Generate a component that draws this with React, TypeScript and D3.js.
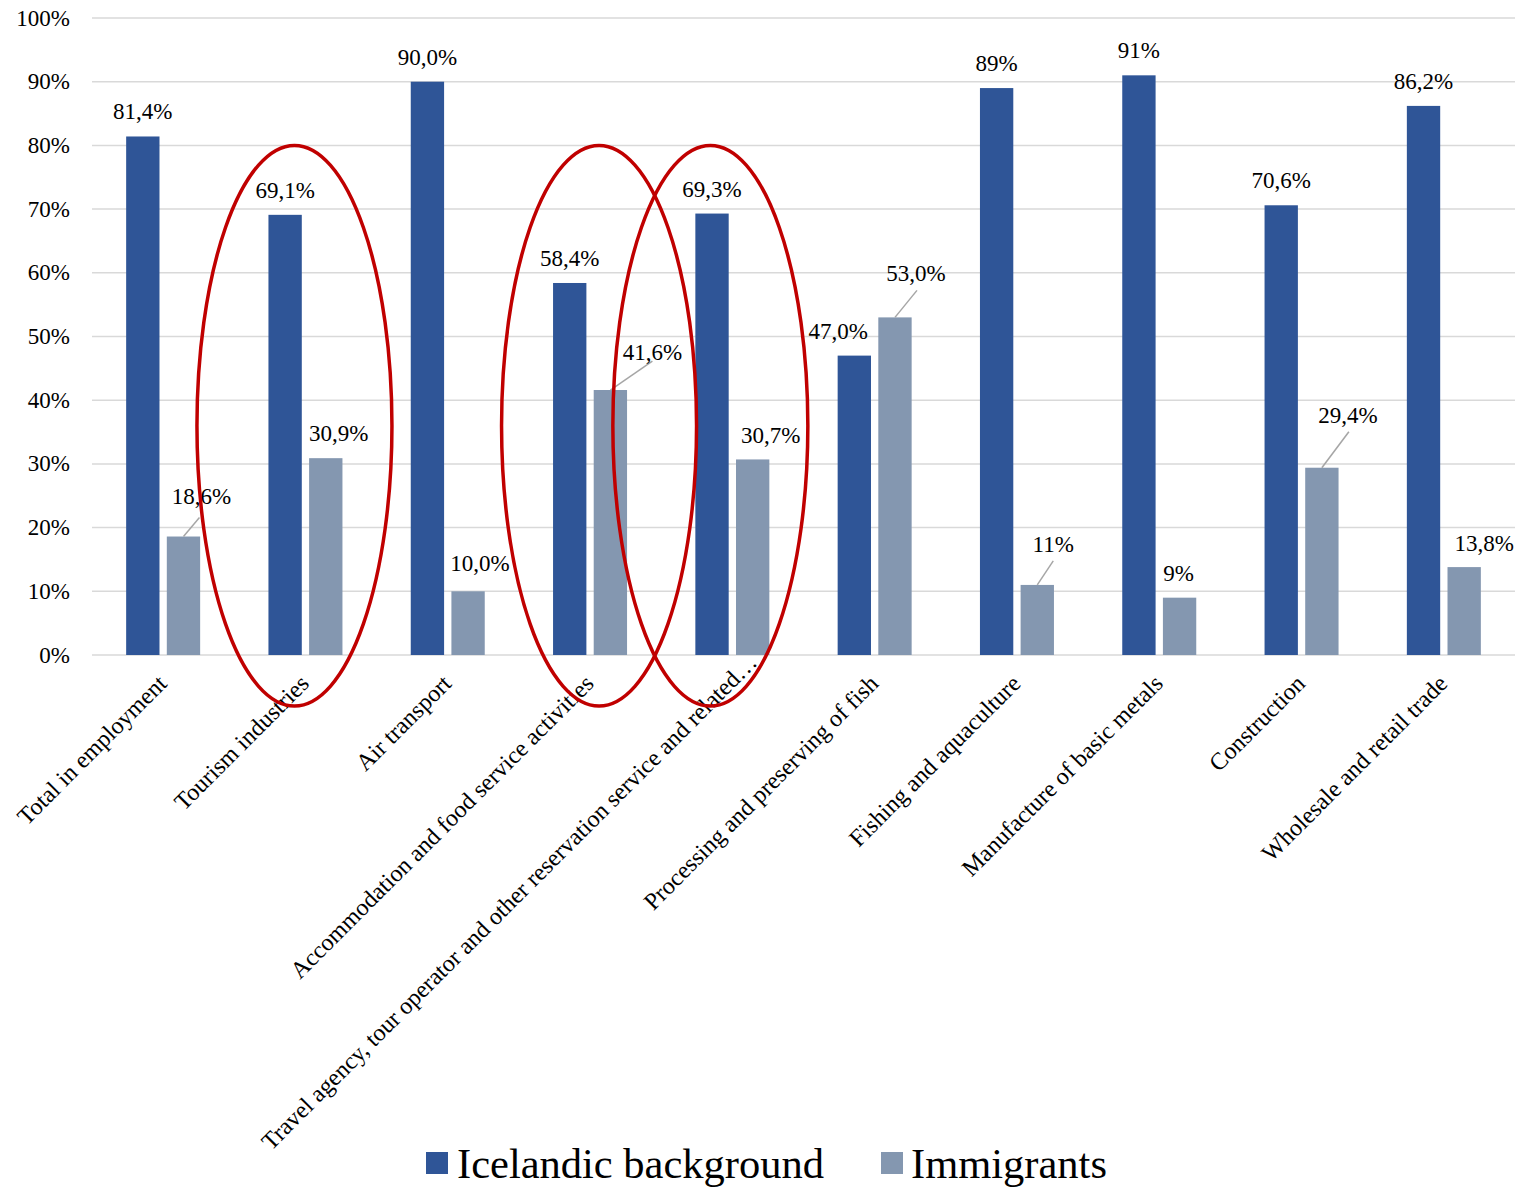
import React from "react";
import * as d3 from "d3";

const categories = [
  "Total in employment",
  "Tourism industries",
  "Air transport",
  "Accommodation and food service activities",
  "Travel agency, tour operator and other reservation service and related…",
  "Processing and preserving of fish",
  "Fishing and aquaculture",
  "Manufacture of basic metals",
  "Construction",
  "Wholesale and retail trade",
];
const seriesNames = ["Icelandic background", "Immigrants"];
const icelandic = [81.4, 69.1, 90.0, 58.4, 69.3, 47.0, 89, 91, 70.6, 86.2];
const immigrants = [18.6, 30.9, 10.0, 41.6, 30.7, 53.0, 11, 9, 29.4, 13.8];
const icelandicLabels = ["81,4%", "69,1%", "90,0%", "58,4%", "69,3%", "47,0%", "89%", "91%", "70,6%", "86,2%"];
const immigrantLabels = ["18,6%", "30,9%", "10,0%", "41,6%", "30,7%", "53,0%", "11%", "9%", "29,4%", "13,8%"];
const yTicks = [0, 10, 20, 30, 40, 50, 60, 70, 80, 90, 100];
const highlighted = [
  "Tourism industries",
  "Accommodation and food service activities",
  "Travel agency, tour operator and other reservation service and related…",
];

// label placement (style)
const icelandicLabelShift = [0, 0, 0, 0, 0, -16, 0, 0, 0, 0];
const immigrantLabelShift: { dx: number; dy: number; leader?: [number, number] }[] = [
  { dx: 18, dy: -33, leader: [-2, 14] },
  { dx: 13, dy: -17 },
  { dx: 12, dy: -20 },
  { dx: 42, dy: -30, leader: [0, 1] },
  { dx: 18, dy: -16 },
  { dx: 21, dy: -36, leader: [1, 9] },
  { dx: 16, dy: -33, leader: [0, 9] },
  { dx: -1, dy: -17 },
  { dx: 26, dy: -45, leader: [1, 9] },
  { dx: 20, dy: -16 },
];
const categoryLabelSlide = [0, 0, 0, 0, 30, 0, 0, 0, 0, 0];
const ellipseShift = [-11, 9, -22];

const COLORS = ["#2F5597", "#8497B0"];
const FONT = "'Liberation Serif', 'Times New Roman', serif";

export default function App() {
  const W = 1522;
  const H = 1187;
  const left = 92;
  const right = 1515;
  const x0 = d3.scaleBand<string>().domain(categories).range([left, right]).paddingInner(0.48).paddingOuter(0.24);
  const x1 = d3.scaleBand<string>().domain(seriesNames).range([0, x0.bandwidth()]).paddingInner(0.18);
  const y = d3.scaleLinear().domain([0, 100]).range([655, 18]);
  const center = (c: string) => (x0(c) as number) + x0.bandwidth() / 2;

  return (
    <svg width={W} height={H} style={{ position: "absolute", left: 0, top: 0, background: "#fff" }} fontFamily={FONT}>
      {yTicks.map((t) => (
        <g key={t}>
          <line x1={left} x2={right} y1={y(t)} y2={y(t)} stroke="#D9D9D9" strokeWidth={1.5} />
          <text x={70} y={y(t)} dy="0.33em" textAnchor="end" fontSize={23} fill="#000">
            {t}%
          </text>
        </g>
      ))}
      {categories.map((c, i) => {
        const xi = x0(c) as number;
        const xa = xi + (x1(seriesNames[0]) as number);
        const xb = xi + (x1(seriesNames[1]) as number);
        const bw = x1.bandwidth();
        const s = immigrantLabelShift[i];
        const lbx = xb + bw / 2 + s.dx;
        const lby = y(immigrants[i]) + s.dy;
        return (
          <g key={c}>
            <rect x={xa} y={y(icelandic[i])} width={bw} height={y(0) - y(icelandic[i])} fill={COLORS[0]} />
            <rect x={xb} y={y(immigrants[i])} width={bw} height={y(0) - y(immigrants[i])} fill={COLORS[1]} />
            <text x={xa + bw / 2 + icelandicLabelShift[i]} y={y(icelandic[i]) - 17} textAnchor="middle" fontSize={23}>
              {icelandicLabels[i]}
            </text>
            {s.leader && (
              <line
                x1={xb + bw / 2}
                y1={y(immigrants[i])}
                x2={lbx + s.leader[0]}
                y2={lby + s.leader[1]}
                stroke="#A6A6A6"
                strokeWidth={1.5}
              />
            )}
            <text x={lbx} y={lby} textAnchor="middle" fontSize={23}>
              {immigrantLabels[i]}
            </text>
            <text
              transform={`translate(${center(c) + 5},${685}) rotate(-45) translate(${categoryLabelSlide[i]},0)`}
              textAnchor="end"
              fontSize={24}
            >
              {c}
            </text>
          </g>
        );
      })}
      {highlighted.map((c, k) => (
        <ellipse
          key={c}
          cx={center(c) + ellipseShift[k]}
          cy={(y(80) + 706) / 2}
          rx={97.5}
          ry={(706 - y(80)) / 2}
          fill="none"
          stroke="#C00000"
          strokeWidth={3.5}
        />
      ))}
      <g>
        <rect x={426} y={1152} width={22} height={22} fill={COLORS[0]} />
        <text x={457} y={1178} fontSize={42.5}>
          {seriesNames[0]}
        </text>
        <rect x={881} y={1152} width={22} height={22} fill={COLORS[1]} />
        <text x={911} y={1178} fontSize={42.5}>
          {seriesNames[1]}
        </text>
      </g>
    </svg>
  );
}
